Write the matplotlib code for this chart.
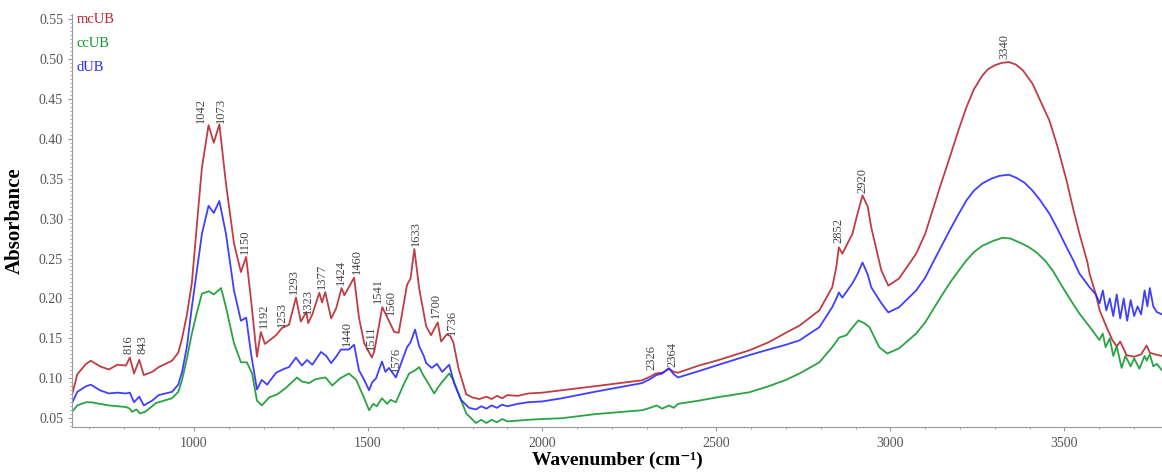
import matplotlib
matplotlib.use("Agg")
import matplotlib.pyplot as plt
from matplotlib.ticker import MultipleLocator

# spectra (wavenumber cm-1, absorbance)
wn_mcub = [650, 665, 690, 704, 730, 756, 780, 805, 816, 828, 843, 856, 880, 899, 937,
           955, 966, 980, 994, 1010, 1023, 1042, 1057, 1073, 1092, 1115, 1135, 1150,
           1164, 1181, 1192, 1204, 1236, 1253, 1273, 1293, 1307, 1323, 1328, 1340,
           1360, 1368, 1377, 1394, 1408, 1424, 1432, 1460, 1474, 1489, 1511, 1518,
           1541, 1560, 1575, 1588, 1612, 1622, 1633, 1647, 1667, 1681, 1700, 1710,
           1726, 1736, 1745, 1760, 1782, 1800, 1820, 1840, 1855, 1870, 1885, 1900,
           1930, 1960, 2000, 2057, 2150, 2287, 2310, 2326, 2345, 2364, 2378, 2390,
           2450, 2500, 2595, 2650, 2700, 2739, 2796, 2833, 2845, 2852, 2862, 2891,
           2905, 2920, 2935, 2945, 2974, 2994, 3025, 3074, 3100, 3121, 3145, 3170,
           3195, 3218, 3240, 3264, 3280, 3300, 3320, 3340, 3360, 3380, 3408, 3430,
           3457, 3480, 3506, 3525, 3543, 3566, 3572, 3590, 3601, 3620, 3638, 3650,
           3660, 3678, 3700, 3720, 3736, 3745, 3760, 3780]
ab_mcub = [0.079, 0.105, 0.118, 0.122, 0.115, 0.111, 0.117, 0.116, 0.126, 0.106, 0.123,
           0.104, 0.108, 0.114, 0.122, 0.132, 0.150, 0.180, 0.219, 0.300, 0.364, 0.417,
           0.395, 0.418, 0.344, 0.269, 0.233, 0.252, 0.198, 0.127, 0.158, 0.143, 0.154,
           0.163, 0.167, 0.201, 0.171, 0.183, 0.169, 0.180, 0.207, 0.195, 0.208, 0.175,
           0.187, 0.213, 0.204, 0.226, 0.176, 0.144, 0.126, 0.134, 0.189, 0.172, 0.158,
           0.157, 0.217, 0.225, 0.262, 0.212, 0.165, 0.154, 0.170, 0.146, 0.155, 0.153,
           0.145, 0.112, 0.080, 0.076, 0.074, 0.077, 0.074, 0.078, 0.075, 0.079, 0.078,
           0.081, 0.082, 0.085, 0.090, 0.0975, 0.102, 0.106, 0.107, 0.112, 0.108, 0.107,
           0.116, 0.122, 0.135, 0.145, 0.157, 0.166, 0.185, 0.214, 0.240, 0.264, 0.256,
           0.281, 0.305, 0.329, 0.315, 0.289, 0.235, 0.216, 0.225, 0.256, 0.281, 0.310,
           0.343, 0.376, 0.410, 0.439, 0.462, 0.479, 0.487, 0.492, 0.495, 0.496, 0.493,
           0.486, 0.469, 0.448, 0.4225, 0.390, 0.3475, 0.312, 0.281, 0.245, 0.231,
           0.205, 0.185, 0.165, 0.1475, 0.140, 0.146, 0.129, 0.127, 0.130, 0.141, 0.132,
           0.130, 0.128]

wn_ccub = [650, 665, 690, 704, 730, 756, 780, 805, 816, 822, 835, 845, 860, 891, 937,
           955, 966, 980, 994, 1010, 1023, 1043, 1057, 1078, 1092, 1115, 1135, 1152,
           1167, 1181, 1195, 1216, 1240, 1264, 1296, 1310, 1330, 1350, 1378, 1397,
           1420, 1445, 1466, 1489, 1503, 1515, 1525, 1540, 1555, 1565, 1580, 1600,
           1618, 1635, 1647, 1657, 1667, 1690, 1700, 1710, 1733, 1745, 1756, 1782,
           1810, 1825, 1840, 1855, 1870, 1885, 1900, 1930, 1960, 2000, 2057, 2150,
           2287, 2310, 2328, 2345, 2364, 2378, 2390, 2450, 2500, 2595, 2650, 2700,
           2739, 2796, 2833, 2853, 2874, 2890, 2908, 2925, 2940, 2968, 2991, 3025,
           3074, 3100, 3121, 3145, 3170, 3195, 3218, 3240, 3264, 3295, 3322, 3345,
           3371, 3395, 3420, 3445, 3466, 3485, 3506, 3525, 3543, 3580,
           3600, 3610, 3618, 3630, 3640, 3650, 3664, 3675, 3690, 3700, 3715, 3730,
           3736, 3745, 3755, 3765, 3780]
ab_ccub = [0.058, 0.066, 0.070, 0.070, 0.068, 0.066, 0.065, 0.064, 0.062, 0.058, 0.061,
           0.056, 0.058, 0.069, 0.075, 0.083, 0.098, 0.125, 0.156, 0.185, 0.206, 0.209,
           0.205, 0.213, 0.189, 0.144, 0.120, 0.120, 0.106, 0.072, 0.066, 0.076, 0.080,
           0.088, 0.101, 0.096, 0.094, 0.099, 0.101, 0.091, 0.100, 0.106, 0.098, 0.075,
           0.060, 0.068, 0.065, 0.075, 0.068, 0.073, 0.070, 0.090, 0.106, 0.110, 0.114,
           0.105, 0.098, 0.081, 0.088, 0.094, 0.106, 0.098, 0.085, 0.056, 0.044, 0.048,
           0.044, 0.048, 0.045, 0.049, 0.046, 0.047, 0.048, 0.049, 0.050, 0.055, 0.060,
           0.063, 0.066, 0.062, 0.066, 0.063, 0.068, 0.072, 0.076, 0.0825, 0.090, 0.098,
           0.106, 0.120, 0.139, 0.151, 0.154, 0.163, 0.1725, 0.169, 0.164, 0.139, 0.131,
           0.1375, 0.156, 0.170, 0.185, 0.202, 0.219, 0.234, 0.2475, 0.258, 0.266, 0.272,
           0.276, 0.275, 0.270, 0.265, 0.2575, 0.247, 0.235, 0.221, 0.206, 0.193, 0.181,
           0.160, 0.148, 0.156, 0.139, 0.150, 0.128, 0.140, 0.113, 0.128,
           0.115, 0.125, 0.112, 0.128, 0.122, 0.130, 0.115, 0.118, 0.110]

wn_dub = [650, 665, 690, 704, 730, 756, 780, 805, 816, 828, 843, 856, 880, 899, 937,
          955, 966, 980, 994, 1010, 1023, 1042, 1057, 1073, 1092, 1115, 1135, 1150,
          1164, 1181, 1195, 1210, 1236, 1260, 1273, 1293, 1310, 1325, 1340, 1365,
          1380, 1394, 1410, 1422, 1445, 1460, 1474, 1489, 1503, 1512, 1523, 1540,
          1550, 1560, 1580, 1612, 1622, 1635, 1647, 1660, 1667, 1683, 1698, 1713,
          1733, 1747, 1767, 1790, 1810, 1825, 1840, 1855, 1870, 1885, 1900, 1930,
          1960, 2000, 2057, 2150, 2287, 2310, 2328, 2345, 2364, 2378, 2390, 2450,
          2500, 2595, 2650, 2700, 2739, 2796, 2833, 2845, 2852, 2862, 2891, 2905,
          2920, 2935, 2945, 2974, 2994, 3025, 3074, 3100, 3121, 3145, 3170, 3195,
          3218, 3240, 3264, 3290, 3313, 3340, 3362, 3385, 3408, 3430, 3457, 3480,
          3506, 3525, 3543, 3572, 3590, 3601, 3610, 3620, 3630,
          3640, 3650, 3660, 3670, 3680, 3690, 3700, 3710, 3720, 3730, 3738, 3745,
          3755, 3765, 3780]
ab_dub = [0.069, 0.083, 0.090, 0.092, 0.085, 0.081, 0.082, 0.081, 0.082, 0.070, 0.077,
          0.066, 0.072, 0.079, 0.083, 0.092, 0.108, 0.140, 0.189, 0.240, 0.281, 0.316,
          0.307, 0.322, 0.281, 0.210, 0.172, 0.176, 0.131, 0.086, 0.098, 0.092, 0.107,
          0.112, 0.114, 0.126, 0.116, 0.123, 0.117, 0.133, 0.128, 0.119, 0.128, 0.136,
          0.136, 0.142, 0.110, 0.098, 0.085, 0.095, 0.100, 0.121, 0.108, 0.113, 0.101,
          0.139, 0.145, 0.161, 0.140, 0.128, 0.119, 0.113, 0.118, 0.108, 0.117, 0.094,
          0.073, 0.063, 0.061, 0.065, 0.062, 0.066, 0.063, 0.067, 0.065, 0.068, 0.070,
          0.071, 0.075, 0.083, 0.094, 0.099, 0.104, 0.106, 0.1125, 0.105, 0.101, 0.109,
          0.116, 0.129, 0.136, 0.142, 0.1475, 0.164, 0.189, 0.200, 0.2075, 0.201, 0.219,
          0.230, 0.245, 0.230, 0.214, 0.194, 0.1825, 0.189, 0.210, 0.226, 0.244, 0.264,
          0.285, 0.305, 0.3225, 0.335, 0.344, 0.350, 0.3535, 0.355, 0.351, 0.345,
          0.335, 0.323, 0.306, 0.287, 0.264, 0.248, 0.231, 0.214, 0.205, 0.194,
          0.210, 0.185, 0.200, 0.178, 0.205, 0.175, 0.200, 0.172, 0.198, 0.178, 0.190,
          0.180, 0.210, 0.190, 0.213, 0.190, 0.183, 0.180]

# peak labels: text, x of label, y where label starts
peak_names = ["816", "843", "1042", "1073", "1150", "1192", "1253", "1293", "1323",
              "1377", "1424", "1460", "1440", "1511", "1541", "1560", "1576", "1633",
              "1700", "1736", "2326", "2364", "2852", "2920", "3340"]
peak_x = [813, 851, 1020, 1078, 1147, 1201, 1253, 1287, 1328, 1368, 1422, 1468, 1440,
          1509, 1529, 1566, 1580, 1638, 1695, 1741, 2313, 2374, 2851, 2920, 3328]
peak_y = [0.131, 0.131, 0.420, 0.420, 0.256, 0.1625, 0.164, 0.206, 0.181, 0.212, 0.217,
          0.231, 0.141, 0.135, 0.194, 0.179, 0.1075, 0.266, 0.175, 0.154, 0.110, 0.114,
          0.269, 0.3325, 0.500]

series = [("mcUB", wn_mcub, ab_mcub, "#b8282f"),
          ("ccUB", wn_ccub, ab_ccub, "#12992e"),
          ("dUB", wn_dub, ab_dub, "#2a2aff")]

serif = ["Liberation Serif", "DejaVu Serif"]
plt.rcParams["font.family"] = serif

fig = plt.figure(figsize=(11.62, 4.72), dpi=100)
ax = fig.add_axes([0.062, 0.095, 0.938, 0.875])

for name, wn, ab, col in series:
    ax.plot(wn, ab, color=col, lw=1.3, alpha=0.9)

# coloured names in the top left corner
for i, (name, wn, ab, col) in enumerate(series):
    ax.text(662, 0.549 - i * 0.03, name, color=col, fontsize=10.5,
            va="center", ha="left")

for name, x, y in zip(peak_names, peak_x, peak_y):
    ax.text(x, y, name, rotation=90, ha="center", va="bottom",
            fontsize=9, color="#444444")

ax.set_xlim(650, 3780)
ax.set_ylim(0.0388, 0.556)
ax.xaxis.set_major_locator(MultipleLocator(500))
ax.xaxis.set_minor_locator(MultipleLocator(100))
ax.yaxis.set_major_locator(MultipleLocator(0.05))
ax.yaxis.set_minor_locator(MultipleLocator(0.005))
ax.yaxis.set_major_formatter(plt.FuncFormatter(lambda v, p: f"{v:.2f}"))

for s in ["top", "right"]:
    ax.spines[s].set_visible(False)
for s in ["left", "bottom"]:
    ax.spines[s].set_color("#999999")
ax.tick_params(which="major", length=3, color="#999999", labelcolor="#555555",
               labelsize=10)
ax.tick_params(which="minor", length=1.5, color="#999999")
ax.tick_params(axis="x", pad=4)

ax.set_ylabel("Absorbance", fontsize=15, fontweight="bold", labelpad=10)
ax.set_xlabel("Wavenumber (cm\u207b\u00b9)", fontsize=14, fontweight="bold", labelpad=1)

fig.savefig("out.png", dpi=100)
